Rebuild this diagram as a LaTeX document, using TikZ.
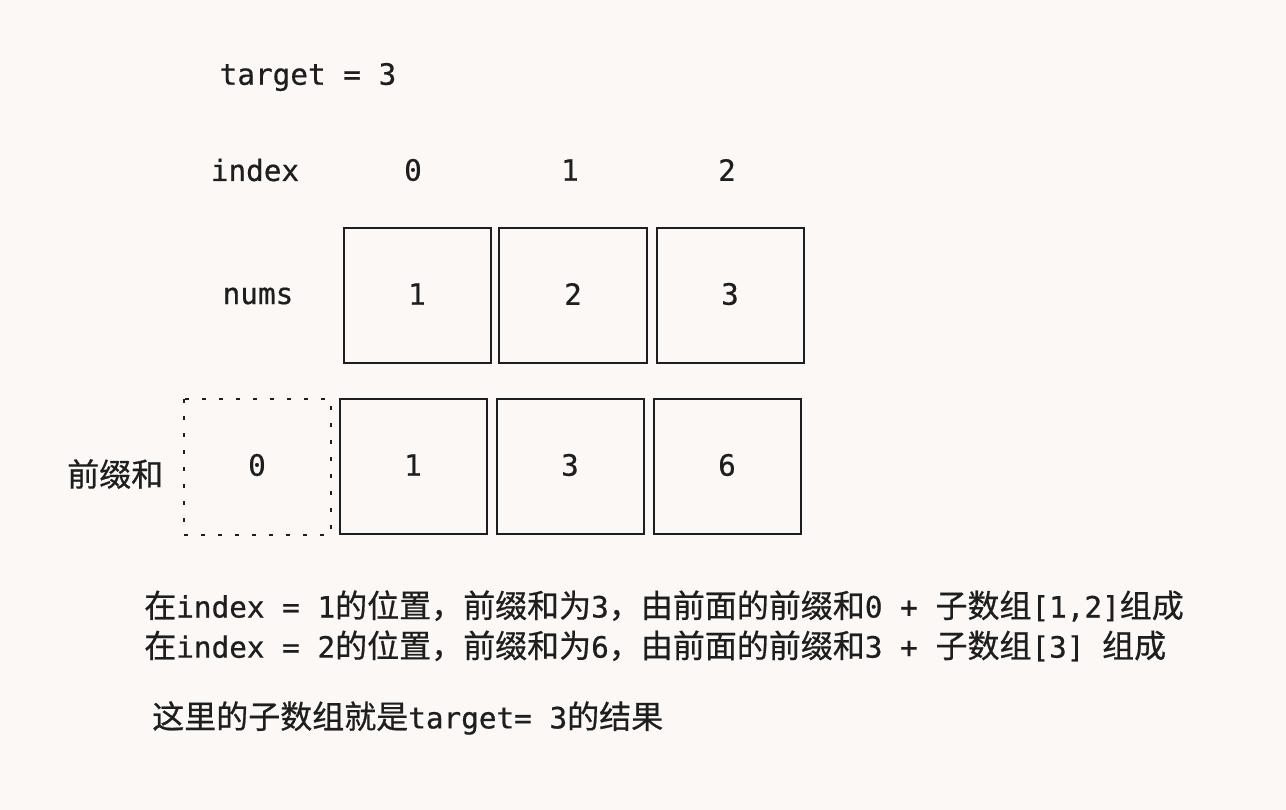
\documentclass[tikz,border=0pt]{standalone}
\usepackage{fontspec}
\newfontfamily\lafont[FakeBold=0.6]{DejaVu Sans Mono}
\newfontfamily\cjfont[FakeBold=0.6]{Noto Sans CJK SC}
\newcommand{\la}[1]{{\lafont #1}}
\newcommand{\cj}[1]{{\cjfont\fontsize{24pt}{28pt}\selectfont #1}}
\definecolor{bg}{HTML}{FBF8F5}
\definecolor{ink}{HTML}{1E1E1E}
\begin{document}
\begin{tikzpicture}[x=0.75pt,y=-0.75pt,
  txt/.style={inner sep=0pt,text=ink,font=\lafont\fontsize{22pt}{26pt}\selectfont},
  cell/.style={draw=ink,line width=1.5pt,inner sep=0pt},
  dotcell/.style={draw=ink,line width=1.9pt,dash pattern=on 3pt off 9.75pt,inner sep=0pt}]
\fill[bg] (0,0) rectangle (1286,810);
\useasboundingbox (0,0) rectangle (1286,810);
% labels
\node[txt] (target) at (308,77) {target = 3};
\node[txt] (index) at (255,170) {index};
\node[txt] (i0) at (413,170) {0};
\node[txt] (i1) at (570,170) {1};
\node[txt] (i2) at (727,170) {2};
\node[txt] (numslbl) at (258,296) {nums};
% nums boxes
\draw[cell] (344,228) rectangle (491,363);
\draw[cell] (499,228) rectangle (647,363);
\draw[cell] (657,228) rectangle (804,363);
\node[txt] (n1) at (417,294) {1};
\node[txt] (n2) at (573,294) {2};
\node[txt] (n3) at (730,294) {3};
% prefix boxes
\draw[dotcell] (184,399) rectangle (331,535);
\draw[cell] (340,399) rectangle (487,534);
\draw[cell] (497,399) rectangle (644,534);
\draw[cell] (654,399) rectangle (801,534);
\node[txt] (p0) at (257,465) {0};
\node[txt] (p1) at (413,465) {1};
\node[txt] (p2) at (570,465) {3};
\node[txt] (p3) at (727,465) {6};
\node[txt,anchor=west] (pre) at (67,474) {\cj{前缀和}};
% explanation
\node[txt,anchor=west] (l1) at (144,606) {\cj{在}index = 1\cj{的位置，前缀和为}3\cj{，由前面的前缀和}0 + \cj{子数组}[1,2]\cj{组成}};
\node[txt,anchor=west] (l2) at (144,646) {\cj{在}index = 2\cj{的位置，前缀和为}6\cj{，由前面的前缀和}3 + \cj{子数组}[3] \cj{组成}};
\node[txt,anchor=west] (l3) at (152,718) {\cj{这里的子数组就是}target= 3\cj{的结果}};
\end{tikzpicture}
\end{document}
